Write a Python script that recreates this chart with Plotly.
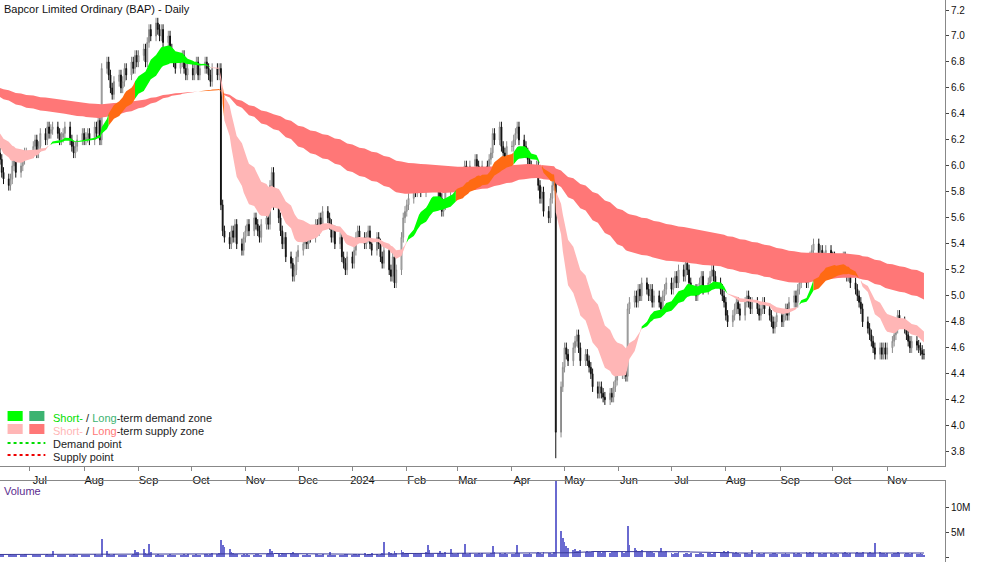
import pandas as pd
import numpy as np
import plotly.graph_objects as go

months = ["2023-02","2023-03","2023-04","2023-05","2023-06","2023-07","2023-08","2023-09","2023-10","2023-11","2023-12",
          "2024-01","2024-02","2024-03","2024-04","2024-05","2024-06","2024-07","2024-08","2024-09","2024-10","2024-11"]
closes = [
 [6.7,6.75,6.8,6.85,6.8,6.9,6.85,6.8,6.9,6.95,6.9,6.85,6.8,6.85,6.9,6.8,6.75,6.8,6.85,6.8],
 [6.8,6.75,6.8,6.7,6.75,6.8,6.7,6.65,6.7,6.75,6.7,6.65,6.6,6.7,6.75,6.7,6.65,6.7,6.75,6.7,6.65,6.7,6.75],
 [6.7,6.75,6.7,6.65,6.7,6.75,6.8,6.7,6.65,6.7,6.6,6.65,6.7,6.6,6.65,6.6,6.55,6.6,6.65,6.6],
 [6.55,6.6,6.5,6.55,6.5,6.45,6.5,6.4,6.45,6.4,6.35,6.4,6.3,6.35,6.3,6.25,6.3,6.2,6.25,6.2,6.15,6.2,6.1],
 [6.15,6.1,6.2,6.15,6.1,6.15,6.1,6.05,6.1,6.05,5.95,5.9,5.85,5.9,6.0,6.05,5.95,6.0,6.05,6.1,6.1],
 [6.15,6.2,6.1,6.15,6.25,6.2,6.3,6.25,6.28,6.3,6.25,6.2,6.22,6.25,6.3,6.2,6.15,6.1,6.15,6.2,6.25],
 [6.2,6.22,6.25,6.2,6.3,6.25,6.35,6.2,6.75,6.8,6.7,6.6,6.55,6.65,6.7,6.6,6.65,6.75,6.7,6.8,6.75,6.85,6.8],
 [6.85,6.9,6.8,6.95,7.05,7.0,7.1,7.05,7.0,7.05,6.95,7.0,6.9,6.85,6.8,6.75,6.8,6.85,6.75,6.7,6.75],
 [6.7,6.75,6.8,6.7,6.75,6.8,6.75,6.7,6.65,6.75,6.7,6.75,5.7,5.5,5.45,5.4,5.5,5.45,5.55,5.4,5.35,5.45],
 [5.5,5.55,5.5,5.6,5.55,5.5,5.45,5.55,5.6,5.55,5.85,5.95,5.7,5.6,5.5,5.4,5.45,5.3,5.25,5.15,5.2,5.3],
 [5.35,5.4,5.45,5.4,5.5,5.45,5.55,5.5,5.6,5.55,5.65,5.6,5.55,5.45,5.5,5.4,5.45,5.3,5.25,5.2,5.3],
 [5.25,5.35,5.45,5.5,5.45,5.4,5.45,5.5,5.4,5.35,5.45,5.4,5.3,5.25,5.35,5.2,5.15,5.3,5.1,5.2,5.45,5.6,5.65],
 [5.7,5.75,5.85,5.8,5.9,5.85,5.8,5.9,5.85,5.95,5.9,5.85,5.8,5.75,5.65,5.7,5.8,5.9,5.85,5.9,5.95],
 [5.9,5.95,6.0,5.95,5.9,6.0,6.05,6.0,5.95,5.9,6.0,5.95,6.05,6.1,6.25,6.2,6.3,6.15,6.1,6.05,6.15],
 [6.15,6.2,6.25,6.3,6.2,6.15,6.1,6.05,6.0,5.95,6.0,5.85,5.75,5.8,5.65,5.6,5.75,5.85,5.9,3.95,4.3,4.45],
 [4.6,4.55,4.5,4.6,4.65,4.7,4.6,4.5,4.55,4.5,4.45,4.4,4.3,4.25,4.3,4.25,4.22,4.2,4.25,4.22,4.3,4.35,4.4],
 [4.4,4.42,4.38,4.9,4.95,5.0,4.95,5.05,5.0,5.1,5.05,5.0,5.05,4.95,5.0,4.95,4.9,5.0,5.05,5.1],
 [5.05,5.1,5.15,5.1,5.2,5.15,5.25,5.2,5.1,5.05,5.0,5.05,5.1,5.15,5.05,5.1,5.15,5.2,5.15,5.1,5.05,5.0,4.95],
 [4.85,4.8,4.85,4.9,4.95,4.9,4.85,4.95,5.0,4.95,4.9,4.95,4.9,4.85,4.9,4.95,4.9,4.85,4.8,4.75,4.8,4.85],
 [4.8,4.85,4.9,4.85,4.95,5.0,4.95,5.05,5.1,5.15,5.1,5.2,5.3,5.35,5.4,5.3,5.35,5.25,5.3,5.35,5.3],
 [5.3,5.25,5.2,5.25,5.3,5.2,5.15,5.2,5.1,5.05,5.0,4.95,4.9,4.8,4.75,4.7,4.65,4.6,4.55,4.6,4.55,4.6,4.55],
 [4.6,4.65,4.7,4.75,4.85,4.8,4.75,4.7,4.65,4.6,4.65,4.62,4.6,4.58,4.55,4.55],
]
volumes_m = [
 None, None, None, None,
 [0.5,0.4,0.6,0.4,0.5,0.5,0.6,0.4,0.4,0.5,0.4,0.5,0.4,0.6,0.4,0.5,0.5,0.4,0.5,0.7,0.6],
 [0.4,0.5,0.3,0.5,0.5,0.4,0.6,0.5,0.5,1.2,0.4,0.5,0.3,0.4,0.5,0.5,0.4,0.6,0.5,0.4,0.5],
 [0.5,0.4,0.5,0.5,0.6,0.4,0.5,0.5,3.6,1.2,0.7,0.5,0.5,0.6,0.5,0.4,0.5,0.5,0.4,0.5,0.6,1.4,1.0],
 [1.1,1.6,0.8,0.6,2.6,1.0,0.5,0.6,0.5,0.5,0.4,0.5,0.6,0.5,0.5,0.4,0.5,0.5,0.6,0.5,0.7],
 [0.5,0.5,0.6,0.5,0.5,0.6,0.7,0.5,0.6,0.9,0.7,0.8,3.4,2.5,2.0,1.6,1.1,0.9,0.6,0.7,0.5,0.6],
 [0.5,0.6,0.5,0.5,0.7,0.6,0.5,0.5,0.6,0.8,1.6,1.2,0.7,0.6,0.5,0.9,0.6,0.7,0.8,1.0,0.6,0.7],
 [0.6,0.5,0.5,0.6,0.5,0.5,0.6,0.7,0.5,0.5,0.6,0.5,1.0,0.5,0.4,0.3,0.4,0.5,0.5,0.6,0.7],
 [0.5,0.6,0.7,0.5,0.6,0.8,0.5,0.6,0.7,0.9,0.6,0.5,0.7,0.8,3.0,1.1,0.9,0.7,1.2,0.8,1.4,1.0,0.7],
 [0.8,0.6,0.7,0.9,0.7,0.6,0.8,1.0,2.5,1.4,0.7,0.6,0.9,1.2,0.8,0.7,1.0,1.6,0.9,0.7,0.6],
 [0.8,0.9,2.6,0.7,0.6,0.8,0.7,0.6,0.9,0.7,0.8,0.6,0.7,0.8,2.2,1.0,0.8,0.7,0.6,0.9,0.7],
 [0.7,0.6,0.9,2.4,0.8,0.7,0.6,0.7,0.8,0.6,0.9,1.0,0.8,0.7,1.1,0.9,0.8,0.7,1.0,15.8,5.2,3.8],
 [3.0,2.2,1.8,1.5,1.6,1.3,1.2,1.4,1.1,1.2,1.0,1.1,1.3,1.2,1.0,0.9,1.1,1.0,0.9,1.1,1.0,1.2,1.3],
 [1.0,0.9,1.1,6.2,2.4,1.8,1.5,1.3,1.2,1.4,1.1,1.0,1.2,1.1,0.9,1.0,1.8,1.1,1.0,1.2],
 [0.8,0.7,0.9,0.8,1.0,0.7,0.8,0.9,0.7,0.8,0.6,0.7,0.9,0.8,0.7,0.8,0.9,0.7,0.8,1.0,0.9,0.8,1.2],
 [1.1,1.3,0.9,0.8,1.0,0.8,0.7,0.9,0.8,0.7,0.6,1.4,0.7,0.8,0.6,0.7,0.8,0.6,0.7,0.8,0.9,0.7],
 [0.6,0.7,0.8,0.6,0.7,0.8,0.7,0.9,0.8,0.7,1.0,0.9,1.1,0.8,1.0,0.9,0.8,0.7,0.8,0.9,0.8],
 [0.7,0.8,0.9,0.7,0.8,1.0,0.8,0.7,0.9,0.8,1.0,0.9,0.8,1.1,0.9,1.0,0.8,0.9,2.8,1.1,0.9,0.8,0.7],
 [0.8,0.7,0.9,0.8,1.0,0.8,0.7,0.8,0.9,0.7,0.8,0.6,0.7,0.8,0.6,0.5],
]
low_override = {"2024-04-26": 3.75}
tick_months = ["2023-07-01","2023-08-01","2023-09-01","2023-10-01","2023-11-01","2023-12-01","2024-01-01",
               "2024-02-01","2024-03-01","2024-04-01","2024-05-01","2024-06-01","2024-07-01","2024-08-01",
               "2024-09-01","2024-10-01","2024-11-01"]
tick_labels = ["Jul","Aug","Sep","Oct","Nov","Dec","2024","Feb","Mar","Apr","May","Jun","Jul","Aug","Sep","Oct","Nov"]

rows = []
for m, cl, vo in zip(months, closes, volumes_m):
    start = pd.Timestamp(m + "-01")
    days = pd.bdate_range(start, start + pd.offsets.MonthEnd(0))
    n = min(len(days), len(cl))
    for i in range(n):
        rows.append((days[i], cl[i], (vo[i] if vo is not None and i < len(vo) else np.nan)))
df = pd.DataFrame(rows, columns=["date", "close", "vol"])
df["open"] = df["close"].shift(1).fillna(df["close"])
df["high"] = df[["open", "close"]].max(axis=1) + 0.04
df["low"] = df[["open", "close"]].min(axis=1) - 0.04
for d, v in low_override.items():
    df.loc[df["date"] == pd.Timestamp(d), "low"] = v

c = df["close"]
s1 = c.ewm(span=15, adjust=False).mean(); s2 = c.ewm(span=30, adjust=False).mean()
l1 = c.ewm(span=130, adjust=False).mean(); l2 = c.ewm(span=230, adjust=False).mean()
s_top = np.maximum(s1, s2); s_bot = np.minimum(s1, s2)
l_top = np.maximum(l1, l2); l_bot = np.minimum(l1, l2)

GREEN, DGREEN, PINK, RED, ORANGE = "#00ff00", "#3cb371", "#ffb6b6", "#ff7777", "#ff6a13"
lcol = np.where(l1 > l2, ORANGE, RED)
overlap = (s_bot < l_top) & (s_top > l_bot)
scol = np.where(overlap, ORANGE, np.where(s1 > s2, GREEN, PINK))

fig = go.Figure()
def band(top, bot, cols):
    dates = df["date"].tolist()
    n = len(dates); i = 0
    while i < n:
        j = i
        while j + 1 < n and cols[j + 1] == cols[i]:
            j += 1
        k = min(j + 1, n - 1)
        xs = dates[i:k + 1] + dates[i:k + 1][::-1]
        ys = list(top[i:k + 1]) + list(bot[i:k + 1])[::-1]
        fig.add_trace(go.Scatter(x=xs, y=ys, fill="toself", fillcolor=cols[i], mode="lines",
                                 line=dict(width=0, color=cols[i]), hoverinfo="skip", showlegend=False,
                                 xaxis="x", yaxis="y"))
        i = j + 1
band(l_top.values, l_bot.values, lcol)
band(s_top.values, s_bot.values, scol)

fig.add_trace(go.Candlestick(x=df["date"], open=df["open"], high=df["high"], low=df["low"], close=df["close"],
    increasing=dict(line=dict(color="#8a8a8a", width=1), fillcolor="#ffffff"),
    decreasing=dict(line=dict(color="#111111", width=1), fillcolor="#111111"),
    whiskerwidth=0, showlegend=False, xaxis="x", yaxis="y"))

fig.add_trace(go.Bar(x=df["date"], y=df["vol"], marker=dict(color="#6a6ad0", line=dict(width=0)),
                     width=86400000 * 0.5, showlegend=False, xaxis="x2", yaxis="y2"))
fig.add_trace(go.Scatter(x=df["date"], y=df["vol"].rolling(30, min_periods=1).median(), mode="lines",
                         line=dict(color="#3a3a9a", width=1), showlegend=False, xaxis="x2", yaxis="y2"))

xr = ["2023-06-14", "2024-12-04"]
fig.update_layout(
    width=1000, height=562, margin=dict(l=0, r=55, t=0, b=0),
    paper_bgcolor="white", plot_bgcolor="white",
    font=dict(family="Liberation Sans, Arial", size=11, color="#222"),
    xaxis=dict(domain=[0, 1], range=xr, type="date", tickvals=tick_months, ticktext=tick_labels,
               ticks="outside", ticklen=4, tickcolor="#888", showgrid=False, ticklabelshift=10,
               showline=True, linecolor="#888", mirror=False, rangeslider=dict(visible=False),
               anchor="y", tickfont=dict(size=11, color="#111")),
    yaxis=dict(domain=[1 - 466 / 562, 1], range=[3.69, 7.277], side="right", dtick=0.2, tick0=3.8,
               tickformat=".1f", showgrid=False, showline=True, linecolor="#888", ticks="outside",
               ticklen=3, tickfont=dict(size=10, color="#111")),
    xaxis2=dict(domain=[0, 1], range=xr, type="date", showticklabels=False, showgrid=False,
                showline=True, linecolor="#888", mirror=True, anchor="y2"),
    yaxis2=dict(domain=[0, 1 - 481 / 562], range=[-1, 15.2], side="right", tickvals=[0, 5, 10],
                ticktext=["0", "5M", "10M"], showgrid=False, showline=True, linecolor="#888",
                ticks="outside", ticklen=3, tickfont=dict(size=10, color="#111")),
    bargap=0,
)

def py(y): return 1 - y / 562
ann = [
    dict(x=2/1000, y=py(1), text="Bapcor Limited Ordinary (BAP) - Daily", font=dict(size=11, color="#111")),
    dict(x=2/1000, y=py(483), text="Volume", font=dict(size=11, color="#5b2c8f")),
    dict(x=54/1000, y=py(410), text="<span style='color:#00e000'>Short-</span> / <span style='color:#3cb371'>Long</span>-term demand zone", font=dict(size=11)),
    dict(x=54/1000, y=py(423), text="<span style='color:#ffb6b6'>Short-</span> / <span style='color:#ff7777'>Long</span>-term supply zone", font=dict(size=11)),
    dict(x=54/1000, y=py(436), text="Demand point", font=dict(size=11)),
    dict(x=54/1000, y=py(449), text="Supply point", font=dict(size=11)),
]
for a in ann:
    fig.add_annotation(xref="paper", yref="paper", xanchor="left", yanchor="top", showarrow=False, **a)
shapes = [
    dict(type="rect", x0=8/1000, x1=24/1000, y0=py(421), y1=py(411), fillcolor=GREEN),
    dict(type="rect", x0=31/1000, x1=47/1000, y0=py(421), y1=py(411), fillcolor=DGREEN),
    dict(type="rect", x0=8/1000, x1=24/1000, y0=py(434), y1=py(424), fillcolor=PINK),
    dict(type="rect", x0=31/1000, x1=47/1000, y0=py(434), y1=py(424), fillcolor=RED),
]
for s in shapes:
    fig.add_shape(xref="paper", yref="paper", line=dict(width=0), **s)
fig.add_shape(type="line", xref="paper", yref="paper", x0=8/1000, x1=48/1000, y0=py(443), y1=py(443),
              line=dict(color="#00dd00", width=2, dash="dot"))
fig.add_shape(type="line", xref="paper", yref="paper", x0=8/1000, x1=48/1000, y0=py(455), y1=py(455),
              line=dict(color="#ee0000", width=2, dash="dot"))

fig.write_html("out.html", config={"displayModeBar": False},
               post_script="document.body.style.margin='0';document.body.style.overflow='hidden';")
